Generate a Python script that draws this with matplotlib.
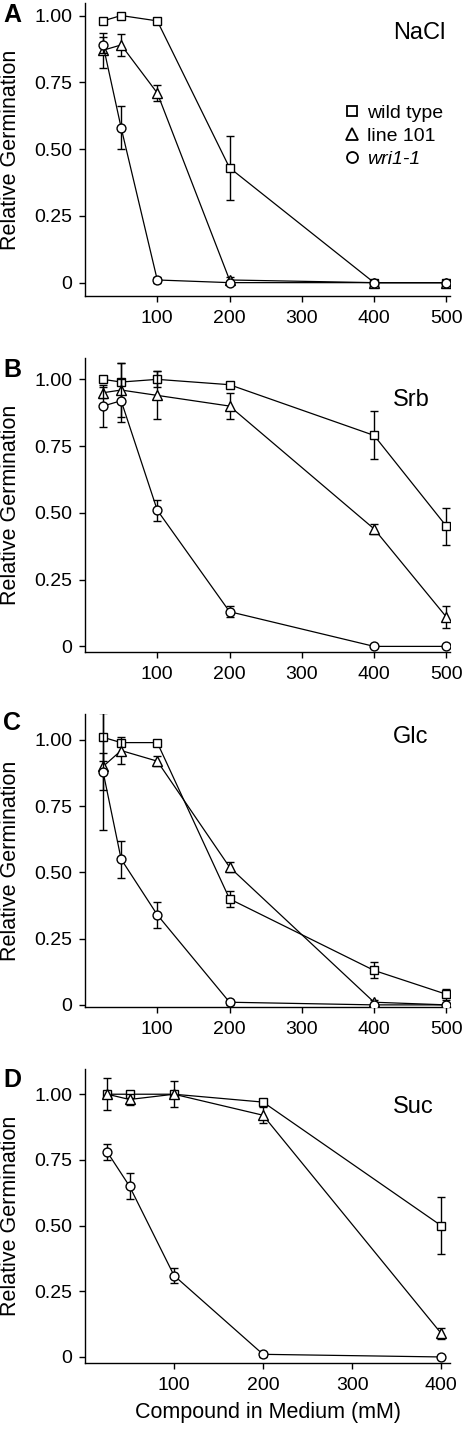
import matplotlib
matplotlib.use("Agg")
import matplotlib.pyplot as plt
from matplotlib.lines import Line2D

plt.rcParams['font.family'] = ['Liberation Sans', 'DejaVu Sans']

# ---------------- data ----------------
x_full = [25, 50, 100, 200, 400, 500]
x_suc = [25, 50, 100, 200, 400]

nacl_wt = [0.98, 1.00, 0.98, 0.43, 0.00, 0.00]
nacl_wt_err = [0.01, 0.00, 0.01, 0.12, 0.00, 0.00]
nacl_l101 = [0.87, 0.89, 0.71, 0.01, 0.00, 0.00]
nacl_l101_err = [0.065, 0.04, 0.03, 0.01, 0.00, 0.00]
nacl_wri = [0.89, 0.58, 0.01, 0.00, 0.00, 0.00]
nacl_wri_err = [0.03, 0.08, 0.01, 0.00, 0.00, 0.00]

srb_wt = [1.00, 0.99, 1.00, 0.98, 0.79, 0.45]
srb_wt_err = [0.01, 0.07, 0.03, 0.01, 0.09, 0.07]
srb_l101 = [0.95, 0.96, 0.94, 0.90, 0.44, 0.11]
srb_l101_err = [0.02, 0.10, 0.09, 0.05, 0.02, 0.04]
srb_wri = [0.90, 0.92, 0.51, 0.13, 0.00, 0.00]
srb_wri_err = [0.08, 0.08, 0.04, 0.02, 0.00, 0.00]

glc_wt = [1.01, 0.99, 0.99, 0.40, 0.13, 0.04]
glc_wt_err = [0.09, 0.01, 0.01, 0.03, 0.03, 0.02]
glc_l101 = [0.90, 0.96, 0.92, 0.52, 0.01, 0.00]
glc_l101_err = [0.24, 0.05, 0.02, 0.02, 0.01, 0.00]
glc_wri = [0.88, 0.55, 0.34, 0.01, 0.00, 0.00]
glc_wri_err = [0.07, 0.07, 0.05, 0.01, 0.00, 0.00]

suc_wt = [1.00, 1.00, 1.00, 0.97, 0.50]
suc_wt_err = [0.01, 0.01, 0.01, 0.01, 0.11]
suc_l101 = [1.00, 0.98, 1.00, 0.92, 0.09]
suc_l101_err = [0.06, 0.02, 0.05, 0.03, 0.02]
suc_wri = [0.78, 0.65, 0.31, 0.01, 0.00]
suc_wri_err = [0.03, 0.05, 0.03, 0.01, 0.00]

series_labels = ["wild type", "line 101", "wri1-1"]
panel_titles = ["NaCl", "Srb", "Glc", "Suc"]
panel_letters = ["A", "B", "C", "D"]
yticks = [0, 0.25, 0.50, 0.75, 1.00]
ytick_labels = ["0", "0.25", "0.50", "0.75", "1.00"]
xticks_full = [100, 200, 300, 400, 500]
xticks_suc = [100, 200, 300, 400]

# ---------------- figure ----------------
W, H = 465, 1429
fig = plt.figure(figsize=(W / 100, H / 100), dpi=100)

def ax_rect(top_px, bot_px, left_px=85, right_px=450):
    return [left_px / W, 1 - bot_px / H, (right_px - left_px) / W, (bot_px - top_px) / H]

panels = [
    dict(rect=ax_rect(3, 296), ylim=(-0.05, 1.047), xlim=(0, 505), x=x_full, xt=xticks_full,
         d=[(nacl_wt, nacl_wt_err), (nacl_l101, nacl_l101_err), (nacl_wri, nacl_wri_err)],
         title_y=0.898, letter_y=15),
    dict(rect=ax_rect(358, 652), ylim=(-0.021, 1.08), xlim=(0, 505), x=x_full, xt=xticks_full,
         d=[(srb_wt, srb_wt_err), (srb_l101, srb_l101_err), (srb_wri, srb_wri_err)],
         title_y=0.857, letter_y=370),
    dict(rect=ax_rect(714, 1007), ylim=(-0.008, 1.098), xlim=(0, 505), x=x_full, xt=xticks_full,
         d=[(glc_wt, glc_wt_err), (glc_l101, glc_l101_err), (glc_wri, glc_wri_err)],
         title_y=0.922, letter_y=723),
    dict(rect=ax_rect(1069, 1363), ylim=(-0.023, 1.096), xlim=(0, 410), x=x_suc, xt=xticks_suc,
         d=[(suc_wt, suc_wt_err), (suc_l101, suc_l101_err), (suc_wri, suc_wri_err)],
         title_y=0.872, letter_y=1080),
]

markers = ['s', '^', 'o']
msizes = [6.2, 7.4, 6.4]

for i, p in enumerate(panels):
    ax = fig.add_axes(p['rect'])
    for j, (vals, errs) in enumerate(p['d']):
        ax.errorbar(p['x'], vals, yerr=errs, fmt='-', color='black', lw=0.9,
                    elinewidth=1.0, capsize=3.0, capthick=1.0,
                    marker=markers[j], markersize=msizes[j], markerfacecolor='white',
                    markeredgecolor='black', markeredgewidth=1.0, zorder=3 + j)
    ax.set_xlim(*p['xlim'])
    ax.set_ylim(*p['ylim'])
    ax.set_yticks(yticks)
    ax.set_yticklabels(ytick_labels)
    ax.set_xticks(p['xt'])
    ax.set_xticklabels([str(v) for v in p['xt']])
    for s in ['top', 'right']:
        ax.spines[s].set_visible(False)
    for s in ['left', 'bottom']:
        ax.spines[s].set_linewidth(1.0)
    ax.tick_params(axis='y', direction='out', length=4, width=1.0, pad=5, labelsize=14)
    ax.tick_params(axis='x', direction='out', length=4, width=1.0, pad=6, labelsize=14)
    ax.set_ylabel("Relative Germination", fontsize=15.5)
    ax.yaxis.set_label_coords(-0.175, 0.5)
    ax.text(0.844, p['title_y'], panel_titles[i], transform=ax.transAxes,
            fontsize=17, ha='left', va='center')
    fig.text(3 / W, 1 - p['letter_y'] / H, panel_letters[i], fontsize=18,
             fontweight='bold', ha='left', va='center')
    if i == 0:
        handles = [Line2D([], [], linestyle='none', marker=markers[k], markersize=msizes[k] + 1.5,
                          markerfacecolor='white', markeredgecolor='black',
                          markeredgewidth=1.3) for k in range(3)]
        leg = ax.legend(handles, series_labels, loc='upper left', bbox_to_anchor=(0.704, 0.655),
                        frameon=False, fontsize=14, handlelength=1.0, handletextpad=0.3,
                        labelspacing=0.28, borderpad=0, borderaxespad=0)
        leg.get_texts()[2].set_style('italic')
    if i == 3:
        ax.set_xlabel("Compound in Medium (mM)", fontsize=15.5, labelpad=6)

fig.savefig("out.png", dpi=100)
